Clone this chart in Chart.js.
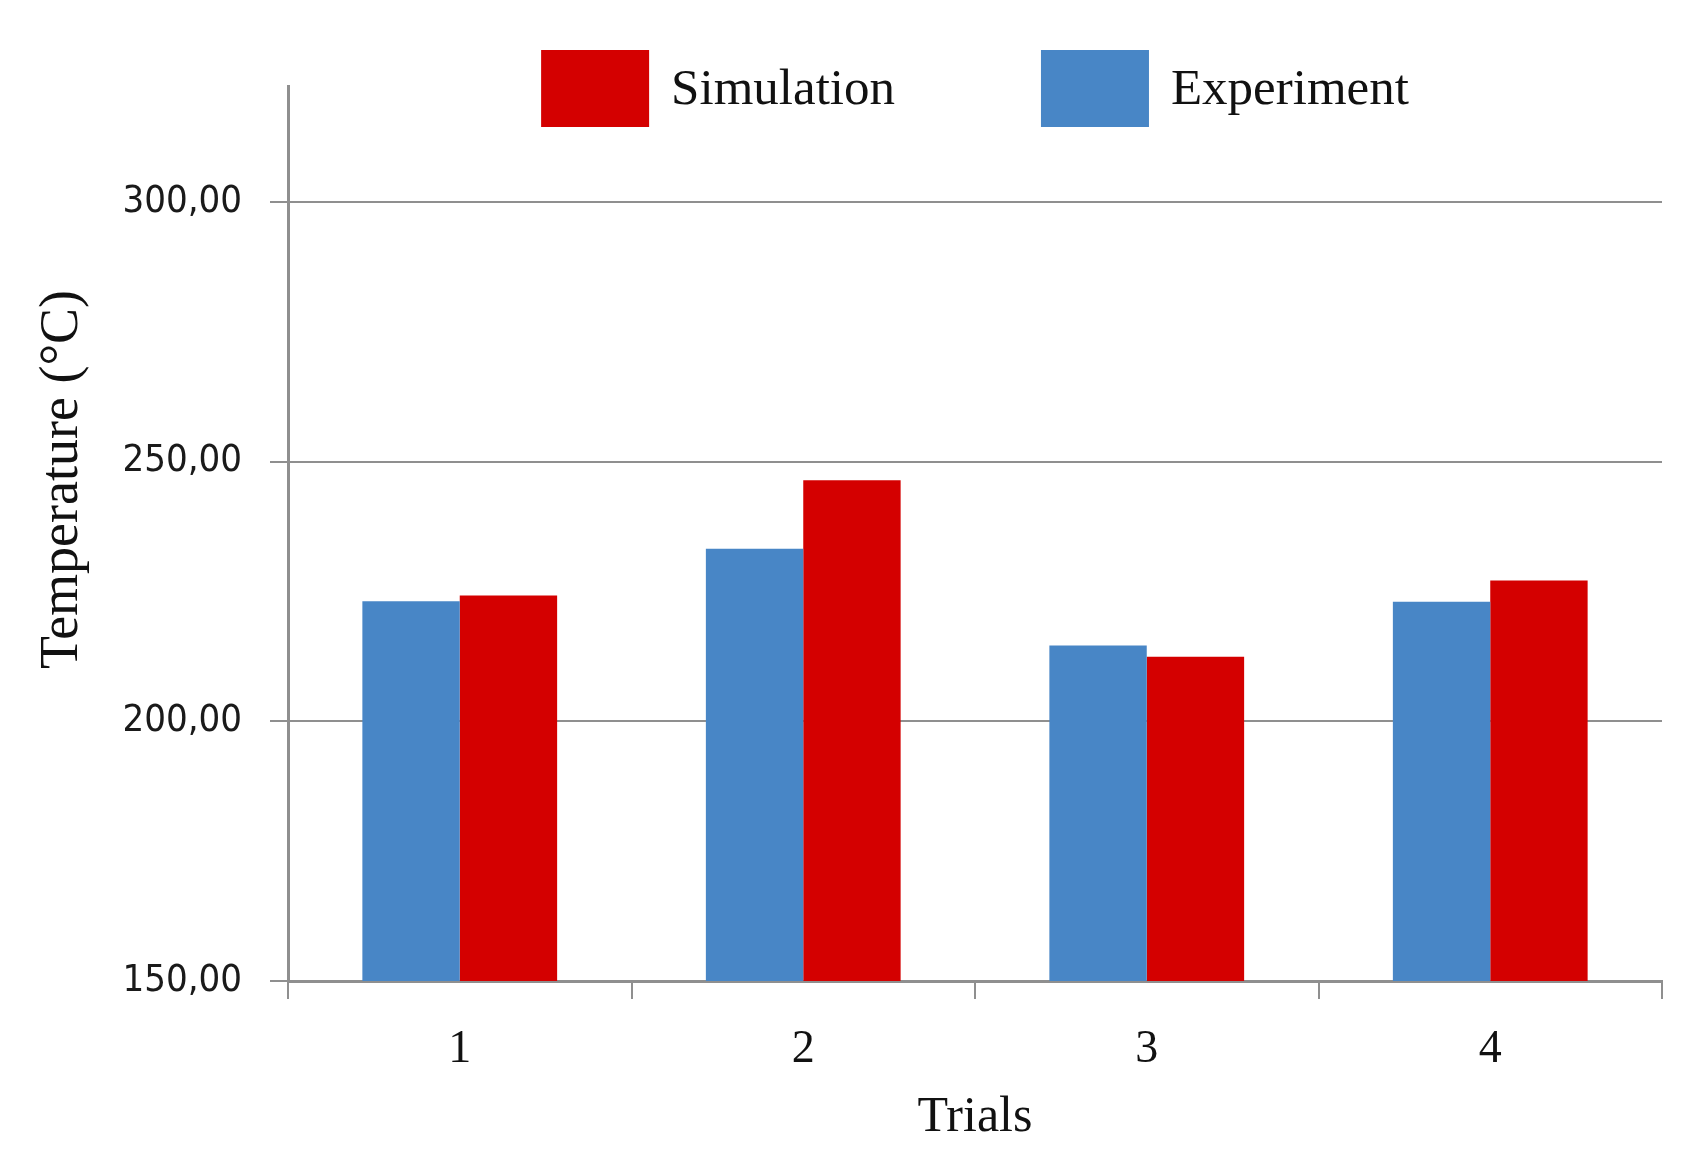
<!DOCTYPE html>
<html>
<head>
<meta charset="utf-8">
<script src="https://cdn.jsdelivr.net/npm/chart.js@4"></script>
<style>
  html, body { margin: 0; padding: 0; background: #fff; }
  #wrap { width: 1698px; height: 1166px; }
</style>
</head>
<body>
<div id="wrap"><canvas id="chart"></canvas></div>
<script>
const trials = ['1', '2', '3', '4'];
const experiment = [223.1, 233.2, 214.6, 223.0];
const simulation = [224.2, 246.4, 212.4, 227.1];
const yTicks = [150, 200, 250, 300];

const serif = '"Liberation Serif", "Times New Roman", serif';
const gray = '#8f8f8f';

// legend drawn inside the top of the plot, Simulation first
const topLegend = {
  id: 'topLegend',
  afterDraw(chart) {
    const ctx = chart.ctx;
    const items = chart.data.datasets.slice().reverse();
    const boxW = 108, boxH = 77, gap = 22, itemGap = 146, top = 50;
    ctx.save();
    ctx.font = '51px ' + serif;
    ctx.textBaseline = 'middle';
    const widths = items.map(d => ctx.measureText(d.label).width);
    let total = 0;
    widths.forEach((w, i) => { total += boxW + gap + w + (i < widths.length - 1 ? itemGap : 0); });
    let x = (chart.chartArea.left + chart.chartArea.right) / 2 - total / 2;
    items.forEach((d, i) => {
      ctx.fillStyle = d.backgroundColor;
      ctx.fillRect(x, top, boxW, boxH);
      ctx.fillStyle = '#111';
      ctx.fillText(d.label, x + boxW + gap, top + boxH / 2 + 2);
      x += boxW + gap + widths[i] + itemGap;
    });
    ctx.restore();
  }
};

new Chart(document.getElementById('chart'), {
  type: 'bar',
  data: {
    labels: trials,
    datasets: [
      { label: 'Experiment', data: experiment, backgroundColor: '#4886c6' },
      { label: 'Simulation', data: simulation, backgroundColor: '#d40000' }
    ]
  },
  plugins: [topLegend],
  options: {
    responsive: true,
    maintainAspectRatio: false,
    devicePixelRatio: 1,
    animation: false,
    layout: { padding: { top: 86, right: 36, left: 0, bottom: 0 } },
    datasets: { bar: { categoryPercentage: 0.567, barPercentage: 1 } },
    plugins: {
      legend: { display: false },
      tooltip: { enabled: false }
    },
    scales: {
      x: {
        afterFit(s) { s.height = 185; },
        grid: { drawOnChartArea: false, color: gray, lineWidth: 2, tickLength: 18, offset: true },
        border: { color: gray, width: 3 },
        ticks: { color: '#111', font: { family: serif, size: 46 }, padding: 23 },
        title: {
          display: true, text: 'Trials', color: '#111',
          font: { family: serif, size: 50 }, padding: { top: 0, bottom: 18 }
        }
      },
      y: {
        min: 150,
        max: 322.3,
        afterFit(s) { s.width = 288; },
        afterBuildTicks(s) { s.ticks = yTicks.map(v => ({ value: v })); },
        grid: { color: gray, lineWidth: 2, tickLength: 18 },
        border: { color: gray, width: 3 },
        ticks: {
          color: '#1a1a1a',
          padding: 28,
          font: { family: '"DejaVu Sans Condensed", "DejaVu Sans", sans-serif', size: 38 },
          callback: v => v.toFixed(2).replace('.', ',')
        },
        title: {
          display: true,
          text: '\u00a0\u00a0\u00a0\u00a0\u00a0\u00a0\u00a0\u00a0Temperature (°C)',
          color: '#111',
          font: { family: serif, size: 54 },
          padding: { top: 30, bottom: 0 }
        }
      }
    }
  }
});
</script>
</body>
</html>
